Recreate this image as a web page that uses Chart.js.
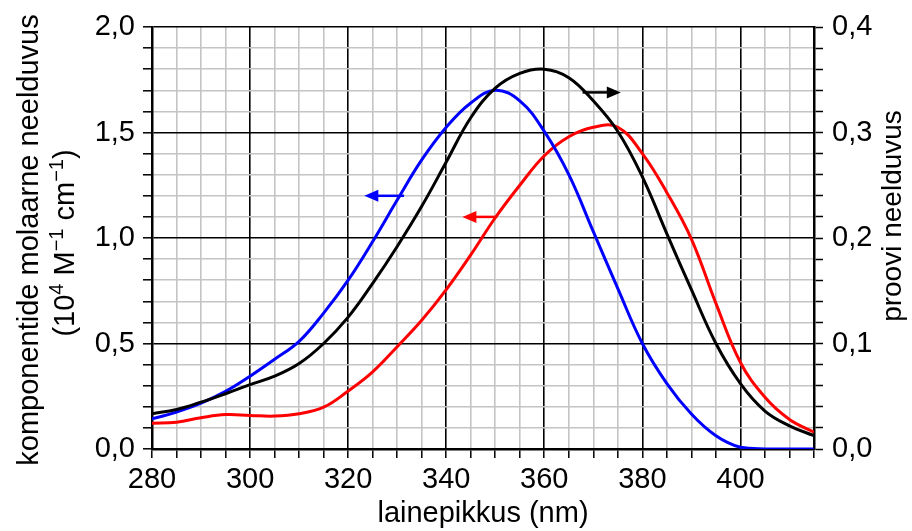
<!DOCTYPE html>
<html lang="et">
<head>
<meta charset="UTF-8">
<title>Neelduvusspektrid</title>
<script src="https://cdn.jsdelivr.net/npm/chart.js"></script>
<style>
  body { margin: 0; background: #fff; }
</style>
</head>
<body>
<canvas id="spekter" width="912" height="531"></canvas>
<script>
// lainepikkus (nm), iga 5 nm tagant
const lainepikkus = [280, 285, 290, 295, 300, 305, 310, 315, 320, 325, 330, 335, 340, 345,
                     350, 355, 360, 365, 370, 375, 380, 385, 390, 395, 400, 405, 410, 415];
// komponentide molaarne neelduvus, 10^4 M-1 cm-1 (vasak telg)
const sinine = [0.143, 0.175, 0.217, 0.273, 0.345, 0.425, 0.51, 0.644, 0.80, 0.983, 1.18, 1.37, 1.525, 1.64,
                1.70, 1.65, 1.505, 1.30, 1.03, 0.76, 0.50, 0.31, 0.166, 0.063, 0.008, 0.0, 0.0, 0.0];
const punane = [0.122, 0.127, 0.148, 0.163, 0.159, 0.156, 0.167, 0.198, 0.275, 0.366, 0.485, 0.61, 0.755, 0.92,
                1.096, 1.25, 1.39, 1.48, 1.525, 1.525, 1.40, 1.215, 0.995, 0.69, 0.41, 0.245, 0.14, 0.08];
// proovi neelduvus (parem telg)
const proov = [0.0334, 0.0374, 0.0444, 0.0524, 0.061, 0.069, 0.081, 0.100, 0.125, 0.157, 0.192, 0.230, 0.272, 0.314,
               0.342, 0.356, 0.360, 0.352, 0.330, 0.301, 0.258, 0.204, 0.151, 0.100, 0.062, 0.036, 0.022, 0.0126];

// nooled: kõrgus vasaku telje ühikutes, saba ja ots nm-des
const noolY = [1.20, 1.10, 1.69];
const noolSaba = [331.4, 350.4, 367.8];
const noolOts = [323.3, 343.3, 375.6];
const noolVarv = ['#0000ff', '#ff0000', '#000000'];

const FONT = '"Liberation Sans", Arial, sans-serif';

function punktid(ys) {
  return lainepikkus.map((x, i) => ({x: x, y: ys[i]}));
}

function koma(v) {
  return v.toFixed(1).replace('.', ',');
}

// tekst koos ülaindeksitega, tsentreeritud punkti (0,0) ümber
function ylaindeksiga(c, osad, suur, vaike) {
  let laius = 0;
  osad.forEach(o => {
    c.font = (o.sup ? vaike : suur) + 'px ' + FONT;
    o.w = c.measureText(o.t).width;
    laius += o.w;
  });
  let x = -laius / 2;
  c.textAlign = 'left';
  c.textBaseline = 'alphabetic';
  osad.forEach(o => {
    c.font = (o.sup ? vaike : suur) + 'px ' + FONT;
    c.fillText(o.t, x, o.sup ? -11 : 0);
    x += o.w;
  });
}

const lisad = {
  id: 'lisad',
  afterDraw(chart) {
    const c = chart.ctx;
    const sx = chart.scales.x, sy = chart.scales.y;
    c.save();
    // nooled
    for (let i = 0; i < noolY.length; i++) {
      const y = sy.getPixelForValue(noolY[i]);
      const x0 = sx.getPixelForValue(noolSaba[i]);
      const x1 = sx.getPixelForValue(noolOts[i]);
      const dir = x1 > x0 ? 1 : -1;
      c.strokeStyle = noolVarv[i];
      c.fillStyle = noolVarv[i];
      c.lineWidth = 2.5;
      c.beginPath();
      c.moveTo(x0, y);
      c.lineTo(x1 - dir * 12, y);
      c.stroke();
      c.beginPath();
      c.moveTo(x1, y);
      c.lineTo(x1 - dir * 14, y - 6);
      c.lineTo(x1 - dir * 14, y + 6);
      c.closePath();
      c.fill();
    }
    // telgede pealkirjad
    c.fillStyle = '#000';
    c.font = '29px ' + FONT;
    c.textAlign = 'center';
    c.textBaseline = 'middle';
    c.fillText('lainepikkus (nm)', 483, 514);

    c.save();
    c.translate(30, 240);
    c.rotate(-Math.PI / 2);
    c.fillText('komponentide molaarne neelduvus', 0, 0);
    c.restore();

    c.save();
    c.translate(74, 243);
    c.rotate(-Math.PI / 2);
    ylaindeksiga(c, [
      {t: '(10'}, {t: '4', sup: true}, {t: ' M'}, {t: '\u22121', sup: true},
      {t: ' cm'}, {t: '\u22121', sup: true}, {t: ')'}
    ], 29, 20);
    c.restore();

    c.save();
    c.font = '28px ' + FONT;
    c.textAlign = 'center';
    c.textBaseline = 'middle';
    c.translate(893, 216);
    c.rotate(-Math.PI / 2);
    c.fillText('proovi neelduvus', 0, 0);
    c.restore();

    c.restore();
  }
};

const joon = (label, ys, color, axis) => ({
  label: label,
  data: punktid(ys),
  borderColor: color,
  backgroundColor: color,
  borderWidth: 3,
  pointRadius: 0,
  fill: false,
  tension: 0.4,
  yAxisID: axis
});

new Chart(document.getElementById('spekter'), {
  type: 'line',
  data: {
    datasets: [
      joon('proov', proov, '#000000', 'y1'),
      joon('sinine', sinine, '#0000ff', 'y'),
      joon('punane', punane, '#ff0000', 'y')
    ]
  },
  options: {
    responsive: false,
    animation: false,
    layout: { padding: { top: 27, left: 0, right: 0, bottom: 0 } },
    plugins: { legend: { display: false }, tooltip: { enabled: false } },
    scales: {
      x: {
        type: 'linear',
        position: 'bottom',
        min: 280,
        max: 415,
        afterFit: s => { s.height = 82; },
        ticks: {
          stepSize: 5,
          autoSkip: false,
          maxRotation: 0,
          padding: 5,
          color: '#000',
          font: { size: 29, family: FONT },
          callback: v => (v % 20 === 0 ? String(v) : '')
        },
        grid: {
          color: ctx => (ctx.tick && ctx.tick.value % 20 === 0 ? '#000000' : '#c4c4c4'),
          lineWidth: 1.6,
          tickLength: 9,
          tickColor: '#000',
          tickWidth: 1.5
        },
        border: { color: '#000', width: 2.5 }
      },
      y: {
        position: 'left',
        min: 0,
        max: 2,
        afterFit: s => { s.width = 152; },
        ticks: {
          stepSize: 0.1,
          autoSkip: false,
          padding: 8,
          color: '#000',
          font: { size: 29, family: FONT },
          callback: v => (Math.round(v * 10) % 5 === 0 ? koma(v) : '')
        },
        grid: {
          color: ctx => (ctx.tick && Math.round(ctx.tick.value * 10) % 5 === 0 ? '#000000' : '#c4c4c4'),
          lineWidth: 1.6,
          tickLength: 9,
          tickColor: '#000',
          tickWidth: 1.5
        },
        border: { color: '#000', width: 2.5 }
      },
      y1: {
        position: 'right',
        min: 0,
        max: 0.4,
        afterFit: s => { s.width = 98; },
        ticks: {
          stepSize: 0.02,
          autoSkip: false,
          padding: 9,
          color: '#000',
          font: { size: 29, family: FONT },
          callback: v => (Math.round(v * 100) % 10 === 0 ? koma(v) : '')
        },
        grid: {
          drawOnChartArea: false,
          tickLength: 9,
          tickColor: '#000',
          tickWidth: 1.5
        },
        border: { color: '#000', width: 2.5 }
      }
    }
  },
  plugins: [lisad]
});
</script>
</body>
</html>
